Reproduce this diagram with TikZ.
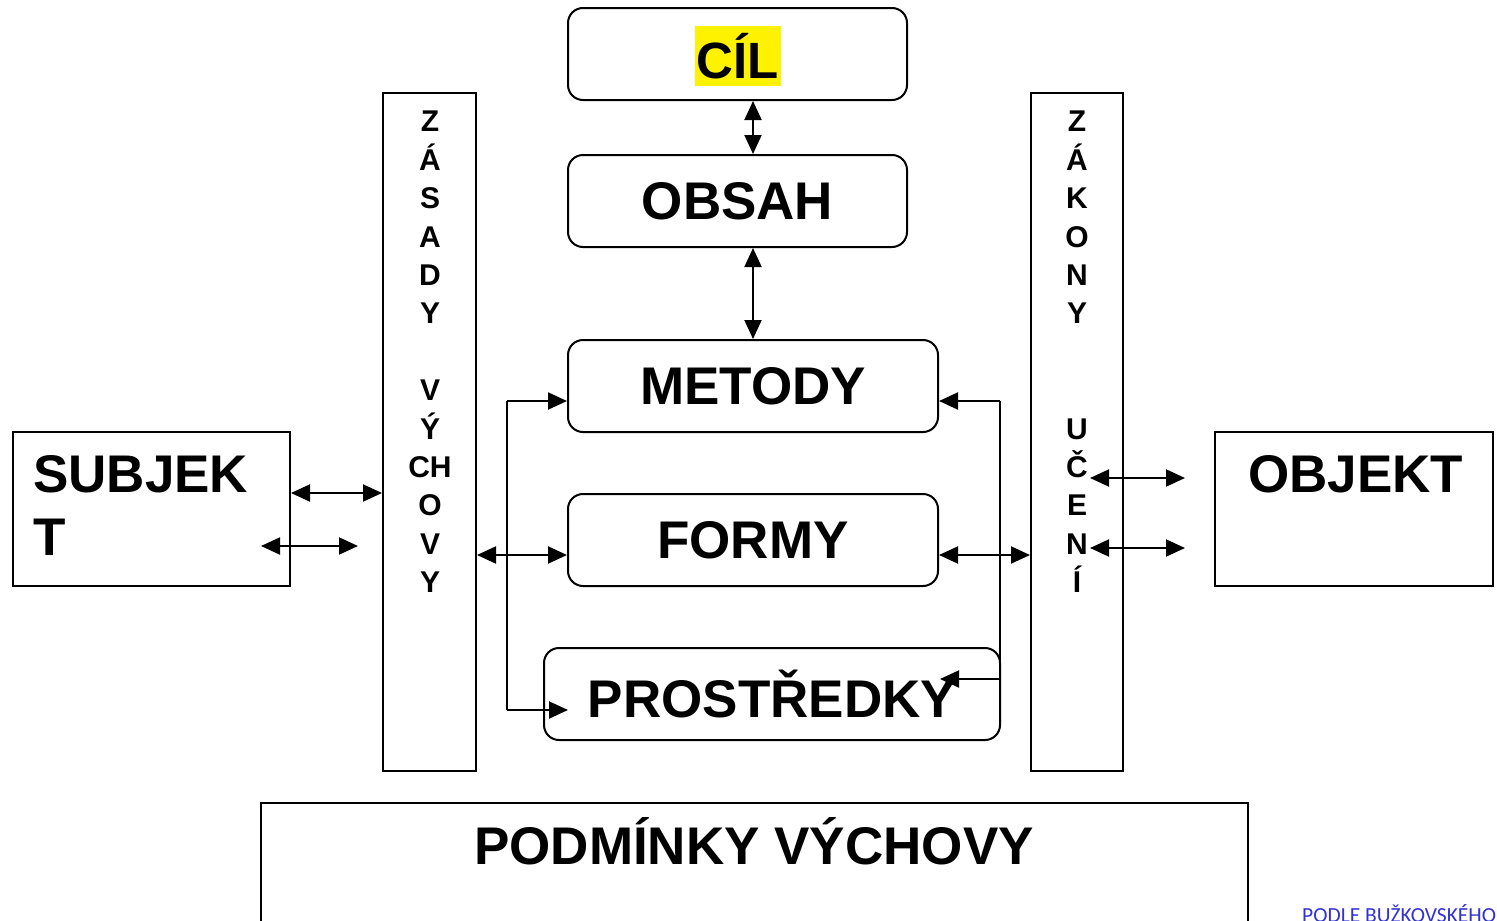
\documentclass[tikz,border=0pt]{standalone}
\usepackage{fontspec}
\setmainfont{Liberation Sans}
\newfontfamily\notefont{Carlito}
\usetikzlibrary{arrows.meta}
\definecolor{noteblue}{RGB}{50,50,210}
\tikzset{
  rbox/.style={draw, line width=2pt, rounded corners=15pt, inner sep=0pt, font=\bfseries\fontsize{53}{62}\selectfont},
  sbox/.style={draw, line width=2pt, inner sep=0pt},
  coltext/.style={inner sep=0pt, align=center, anchor=north, font=\bfseries\fontsize{30}{38.4}\selectfont},
  bigtext/.style={inner sep=0pt, font=\bfseries\fontsize{53}{63}\selectfont},
  dbl/.style={line width=2pt, {Triangle[length=19pt,width=17pt]}-{Triangle[length=19pt,width=17pt]}},
  one/.style={line width=2pt, -{Triangle[length=19pt,width=17pt]}},
  plain/.style={line width=2pt}
}
\begin{document}
\begin{tikzpicture}[x=1pt,y=-1pt]
\useasboundingbox (0,0) rectangle (1497,921);
% central boxes
\node[rbox, minimum width=339, minimum height=92] (cil) at (737.5,54) {};
\node[fill=yellow, inner sep=0pt, minimum width=86, minimum height=60, font=\bfseries\fontsize{51}{60}\selectfont] (ciltext) at (738,56) {CÍL};
\node[rbox, minimum width=339, minimum height=92] (obsah) at (737.5,201) {OBSAH};
\node[rbox, minimum width=370, minimum height=92] (metody) at (753,386) {METODY};
\node[rbox, minimum width=370, minimum height=92] (formy) at (753,540) {FORMY};
\node[rbox, minimum width=456, minimum height=92] (prostr) at (772,694) {PROSTŘEDKY};
% columns
\node[sbox, minimum width=93, minimum height=678] (zasady) at (429.5,432) {};
\node[coltext] (zasadytext) at (430,111) {Z\\Á\\S\\A\\D\\Y\\ \\V\\Ý\\CH\\O\\V\\Y};
\node[sbox, minimum width=92, minimum height=678] (zakony) at (1077,432) {};
\node[coltext] (zakonytext) at (1077,111) {Z\\Á\\K\\O\\N\\Y\\ \\ \\U\\Č\\E\\N\\Í};
% subjekt / objekt
\node[sbox, minimum width=277, minimum height=154] (subjekt) at (151.5,509) {};
\node[bigtext, align=left, anchor=north west] (subjtext) at (33,455) {SUBJEK\\T};
\node[sbox, minimum width=278, minimum height=154] (objekt) at (1354,509) {};
\node[bigtext, anchor=north west] (objtext) at (1248,455) {OBJEKT};
% podminky
\node[sbox, minimum width=987, minimum height=170, anchor=north west] (podm) at (260,802) {};
\node[bigtext, anchor=north] (podmtext) at (754,817) {PODMÍNKY VÝCHOVY};
\node[inner sep=0pt, anchor=base west, text=noteblue, font=\notefont\fontsize{21.5}{24}\selectfont] (note) at (1302,922) {PODLE BUŽKOVSKÉHO};
% vertical arrows
\draw[dbl] (cil.south -| 753,0) -- (obsah.north -| 753,0);
\draw[dbl] (obsah.south -| 753,0) -- (metody.north -| 753,0);
% left bracket
\coordinate (lt) at (507,401);
\coordinate (lb) at (507,710);
\coordinate (pin) at (568,710);
\draw[one] (lt) -- (lt -| metody.west);
\draw[plain] (lt) -- (lb);
\draw[one] (lb) -- (pin);
\draw[dbl] (zasady.east |- 0,555) -- (formy.west |- 0,555);
% right bracket
\coordinate (rt) at (1000,401);
\coordinate (rb) at (1000,679);
\coordinate (pout) at (940,679);
\draw[one] (rt) -- (rt -| metody.east);
\draw[plain] (rt) -- (rb);
\draw[one] (rb) -- (pout);
\draw[dbl] (formy.east |- 0,555) -- (zakony.west |- 0,555);
% subjekt arrows
\draw[dbl] (subjekt.east |- 0,493) -- (zasady.west |- 0,493);
\coordinate (s2a) at (261,546);
\coordinate (s2b) at (358,546);
\draw[dbl] (s2a) -- (s2b);
% objekt arrows
\coordinate (o1a) at (1090,478);
\coordinate (o1b) at (1185,478);
\coordinate (o2a) at (1090,548);
\coordinate (o2b) at (1185,548);
\draw[dbl] (o1a) -- (o1b);
\draw[dbl] (o2a) -- (o2b);
\end{tikzpicture}
\end{document}
